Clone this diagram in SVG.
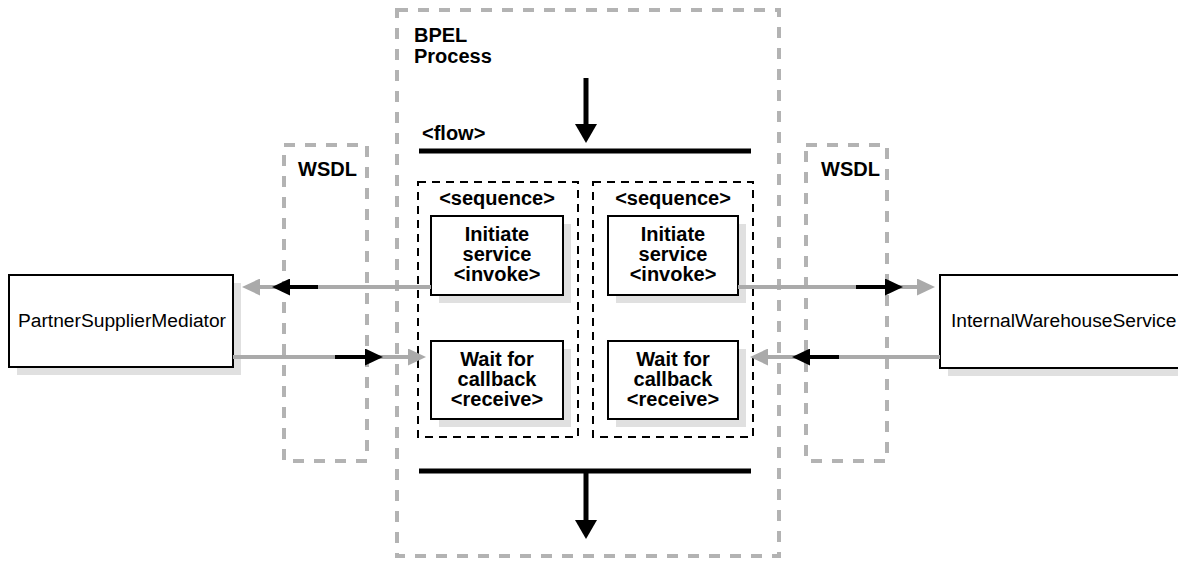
<svg xmlns="http://www.w3.org/2000/svg" width="1178" height="562" viewBox="0 0 1178 562">
<style>
.gbox{fill:none;stroke:#b3b3b3;stroke-width:4;stroke-dasharray:11 10}
.seq{fill:none;stroke:#000;stroke-width:2;stroke-dasharray:8 6}
.box{fill:#fff;stroke:#000;stroke-width:2}
.sh{fill:#e0e0e0}
.b{font-family:"Liberation Sans",Arial,sans-serif;font-weight:bold;font-size:20px;fill:#000}
.r{font-family:"Liberation Sans",Arial,sans-serif;font-size:19.2px;fill:#000}
.c{text-anchor:middle}
.gl{stroke:#aaaaaa;stroke-width:4;fill:none}
.bl{stroke:#000;stroke-width:4;fill:none}
.bar{stroke:#000;stroke-width:5}
</style>
<defs>
<marker id="gh" markerUnits="userSpaceOnUse" markerWidth="18" markerHeight="17" viewBox="0 0 18 17" refX="0" refY="8.5" orient="auto"><path d="M0,0L18,8.5L0,17z" fill="#aaaaaa"/></marker>
<marker id="bh" markerUnits="userSpaceOnUse" markerWidth="18" markerHeight="17" viewBox="0 0 18 17" refX="0" refY="8.5" orient="auto"><path d="M0,0L18,8.5L0,17z" fill="#000"/></marker>
<marker id="vh" markerUnits="userSpaceOnUse" markerWidth="19" markerHeight="22" viewBox="0 0 19 22" refX="0" refY="11" orient="auto"><path d="M0,0L19,11L0,22z" fill="#000"/></marker>
</defs>

<g id="bpel">
<rect class="gbox" x="397" y="10" width="382" height="546"/>
<text class="b"><tspan x="414" y="42">BPEL</tspan><tspan x="414" y="63">Process</tspan></text>
</g>

<g id="wsdl-left">
<rect class="gbox" x="284" y="145" width="83" height="316"/>
<text class="b" x="298" y="176">WSDL</text>
</g>

<g id="wsdl-right">
<rect class="gbox" x="806" y="145" width="81" height="316"/>
<text class="b" x="821" y="176">WSDL</text>
</g>

<g id="flow">
<text class="b" x="422" y="140">&lt;flow&gt;</text>
<line class="bar" x1="419" y1="151" x2="751" y2="151"/>
<line class="bar" x1="419" y1="471" x2="751" y2="471"/>
</g>

<g id="sequence-left">
<rect class="seq" x="418" y="182" width="160" height="255"/>
<text class="b c" x="497" y="205">&lt;sequence&gt;</text>
</g>

<g id="sequence-right">
<rect class="seq" x="593" y="182" width="160" height="255"/>
<text class="b c" x="673" y="205">&lt;sequence&gt;</text>
</g>

<g id="invoke-left">
<rect class="sh" x="439" y="224" width="132" height="79"/>
<rect class="box" x="431" y="216" width="132" height="79"/>
<text class="b c"><tspan x="497" y="241">Initiate</tspan><tspan x="497" y="261">service</tspan><tspan x="497" y="281">&lt;invoke&gt;</tspan></text>
</g>

<g id="receive-left">
<rect class="sh" x="439" y="349" width="132" height="78"/>
<rect class="box" x="431" y="341" width="132" height="78"/>
<text class="b c"><tspan x="497" y="366">Wait for</tspan><tspan x="497" y="386">callback</tspan><tspan x="497" y="406">&lt;receive&gt;</tspan></text>
</g>

<g id="invoke-right">
<rect class="sh" x="616" y="224" width="130" height="79"/>
<rect class="box" x="608" y="216" width="130" height="79"/>
<text class="b c"><tspan x="673" y="241">Initiate</tspan><tspan x="673" y="261">service</tspan><tspan x="673" y="281">&lt;invoke&gt;</tspan></text>
</g>

<g id="receive-right">
<rect class="sh" x="616" y="349" width="130" height="78"/>
<rect class="box" x="608" y="341" width="130" height="78"/>
<text class="b c"><tspan x="673" y="366">Wait for</tspan><tspan x="673" y="386">callback</tspan><tspan x="673" y="406">&lt;receive&gt;</tspan></text>
</g>

<g id="partner">
<rect class="sh" x="17" y="283" width="224" height="92"/>
<rect class="box" x="9" y="275" width="224" height="92"/>
<text class="r c" x="122" y="327">PartnerSupplierMediator</text>
</g>

<g id="warehouse">
<rect class="sh" x="948" y="283" width="245" height="93"/>
<rect class="box" x="940" y="275" width="245" height="93"/>
<text class="r" x="951" y="327">InternalWarehouseService</text>
</g>

<g id="connectors">
<line class="bl" x1="586" y1="78" x2="586" y2="124" style="stroke-width:5" marker-end="url(#vh)"/>
<line class="bl" x1="586" y1="471" x2="586" y2="520" style="stroke-width:5" marker-end="url(#vh)"/>

<line class="gl" x1="431" y1="287" x2="260" y2="287" marker-end="url(#gh)"/>
<line class="bl" x1="318" y1="287" x2="290" y2="287" marker-end="url(#bh)"/>

<line class="gl" x1="233" y1="357" x2="408" y2="357" marker-end="url(#gh)"/>
<line class="bl" x1="335" y1="357" x2="365" y2="357" marker-end="url(#bh)"/>

<line class="gl" x1="738" y1="287" x2="917" y2="287" marker-end="url(#gh)"/>
<line class="bl" x1="856" y1="287" x2="885" y2="287" marker-end="url(#bh)"/>

<line class="gl" x1="940" y1="357" x2="768" y2="357" marker-end="url(#gh)"/>
<line class="bl" x1="839" y1="357" x2="810" y2="357" marker-end="url(#bh)"/>
</g>
</svg>
